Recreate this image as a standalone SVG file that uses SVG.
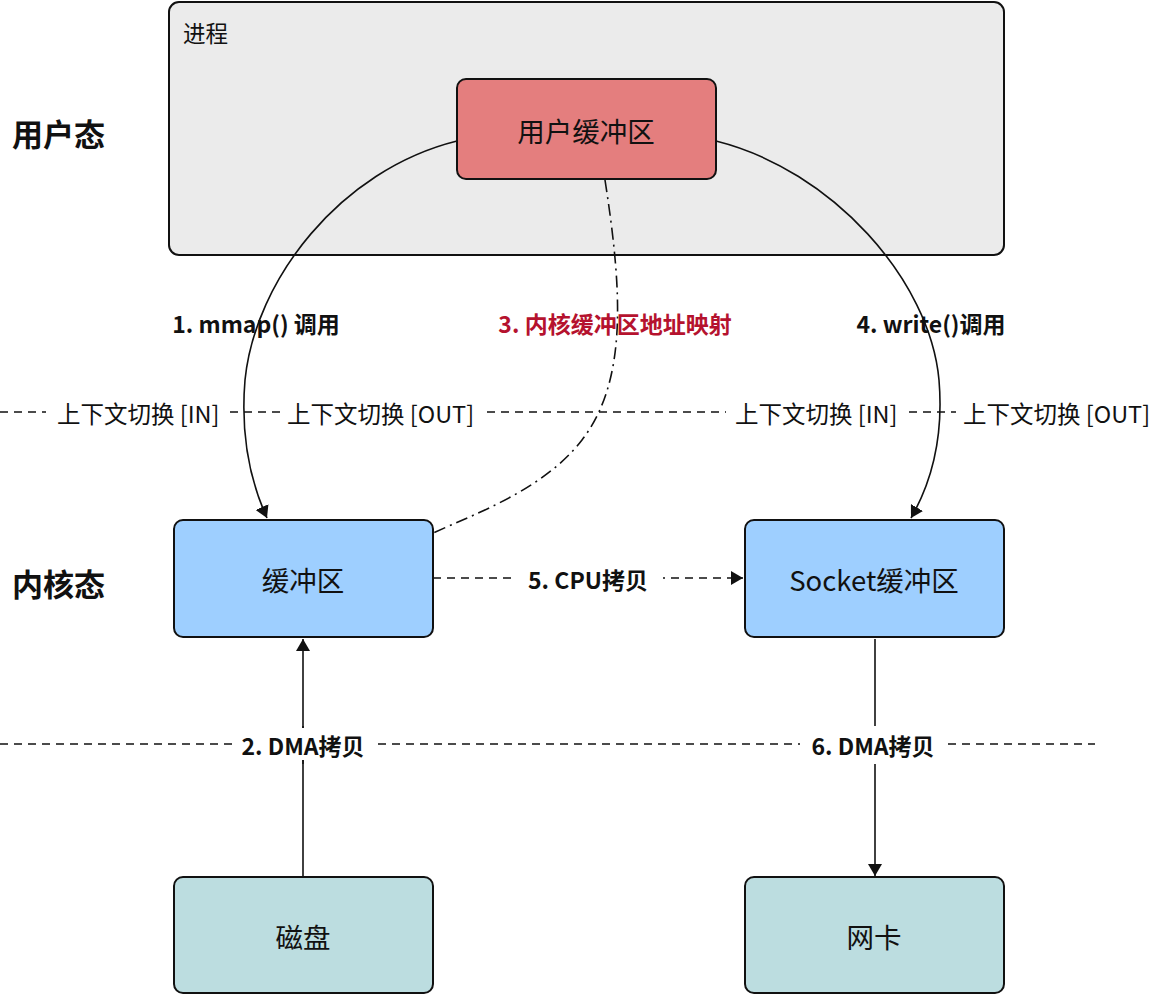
<svg xmlns="http://www.w3.org/2000/svg" width="1166" height="996" viewBox="0 0 1166 996">
<defs>
<style>
.t{font-family:"Noto Sans CJK SC","Liberation Sans",sans-serif;fill:#111}
.node{stroke:#111;stroke-width:2}
.n{font-size:27.5px;text-anchor:middle;dominant-baseline:central}
.lbl{font-size:23px;font-weight:bold;text-anchor:middle;dominant-baseline:central}
.ctx{font-size:23.5px;dominant-baseline:central}
.dash{stroke:#111;stroke-width:1.6;stroke-dasharray:8 6;fill:none}
.ln{stroke:#111;stroke-width:1.6;fill:none}
</style>
<marker id="ahb" markerWidth="12" markerHeight="14" refX="12" refY="7" orient="auto" markerUnits="userSpaceOnUse" viewBox="0 0 12 14">
<path d="M0,0 L12,7 L0,14 Z" fill="#111"/>
</marker>
</defs>
<rect width="1166" height="996" fill="#fff"/>

<g id="process">
<rect class="node" x="169" y="2" width="835" height="253" rx="10" fill="#ebebeb"/>
<text class="t" x="183" y="32" font-size="22.5" dominant-baseline="central">进程</text>
</g>

<g id="labels">
<text class="t" x="12" y="132" font-size="31" font-weight="bold" dominant-baseline="central">用户态</text>
<text class="t" x="12" y="582" font-size="31" font-weight="bold" dominant-baseline="central">内核态</text>
</g>

<g id="connectors">
<path class="ln" d="M457,141 C340,170 255,280 245,380 C240,440 252,485 267,518" marker-end="url(#ahb)"/>
<path class="ln" d="M716,141 C832,170 930,280 939,380 C944,440 930,485 911,518" marker-end="url(#ahb)"/>
<path class="ln" d="M605,180 C622,290 628,380 582,440 C545,488 480,512 433,533" stroke-dasharray="12 5 2 5"/>
<path class="dash" d="M433,578 H743" marker-end="url(#ahb)"/>
<path class="ln" d="M303,877 V726"/>
<path class="ln" d="M303,764 V639" marker-end="url(#ahb)"/>
<path class="ln" d="M875,639 V726"/>
<path class="ln" d="M875,764 V876" marker-end="url(#ahb)"/>
<path class="dash" d="M0,412 H46 M230,412 H280 M487,412 H726 M909,412 H956"/>
<path class="dash" d="M0,744 H232 M378,744 H800 M948,744 H1095"/>
</g>

<g id="connector-labels">
<rect x="513" y="564" width="150" height="30" fill="#fff"/>
<text class="t lbl" x="588" y="579">5. CPU拷贝</text>
<rect x="234" y="728" width="138" height="32" fill="#fff"/>
<text class="t lbl" x="303" y="745">2. DMA拷贝</text>
<rect x="804" y="728" width="138" height="32" fill="#fff"/>
<text class="t lbl" x="873" y="745">6. DMA拷贝</text>
<text class="t lbl" x="256" y="323">1. mmap() 调用</text>
<text class="t lbl" x="615" y="323" style="fill:#b5122e">3. 内核缓冲区地址映射</text>
<text class="t lbl" x="931" y="323">4. write()调用</text>
<text class="t ctx" x="57" y="413">上下文切换 [IN]</text>
<text class="t ctx" x="287" y="413">上下文切换 [OUT]</text>
<text class="t ctx" x="735" y="413">上下文切换 [IN]</text>
<text class="t ctx" x="963" y="413">上下文切换 [OUT]</text>
</g>

<g id="user-buffer">
<rect class="node" x="457" y="79" width="259" height="100" rx="9" fill="#e47e7e"/>
<text class="t n" x="586" y="130">用户缓冲区</text>
</g>
<g id="kernel-buffer">
<rect class="node" x="174" y="520" width="259" height="117" rx="9" fill="#9ecfff"/>
<text class="t n" x="303" y="579">缓冲区</text>
</g>
<g id="socket-buffer">
<rect class="node" x="745" y="520" width="259" height="117" rx="9" fill="#9ecfff"/>
<text class="t n" x="874" y="579">Socket缓冲区</text>
</g>
<g id="disk">
<rect class="node" x="174" y="877" width="259" height="116" rx="9" fill="#bcdde0"/>
<text class="t n" x="303" y="936">磁盘</text>
</g>
<g id="nic">
<rect class="node" x="745" y="877" width="259" height="116" rx="9" fill="#bcdde0"/>
<text class="t n" x="874" y="936">网卡</text>
</g>
</svg>
